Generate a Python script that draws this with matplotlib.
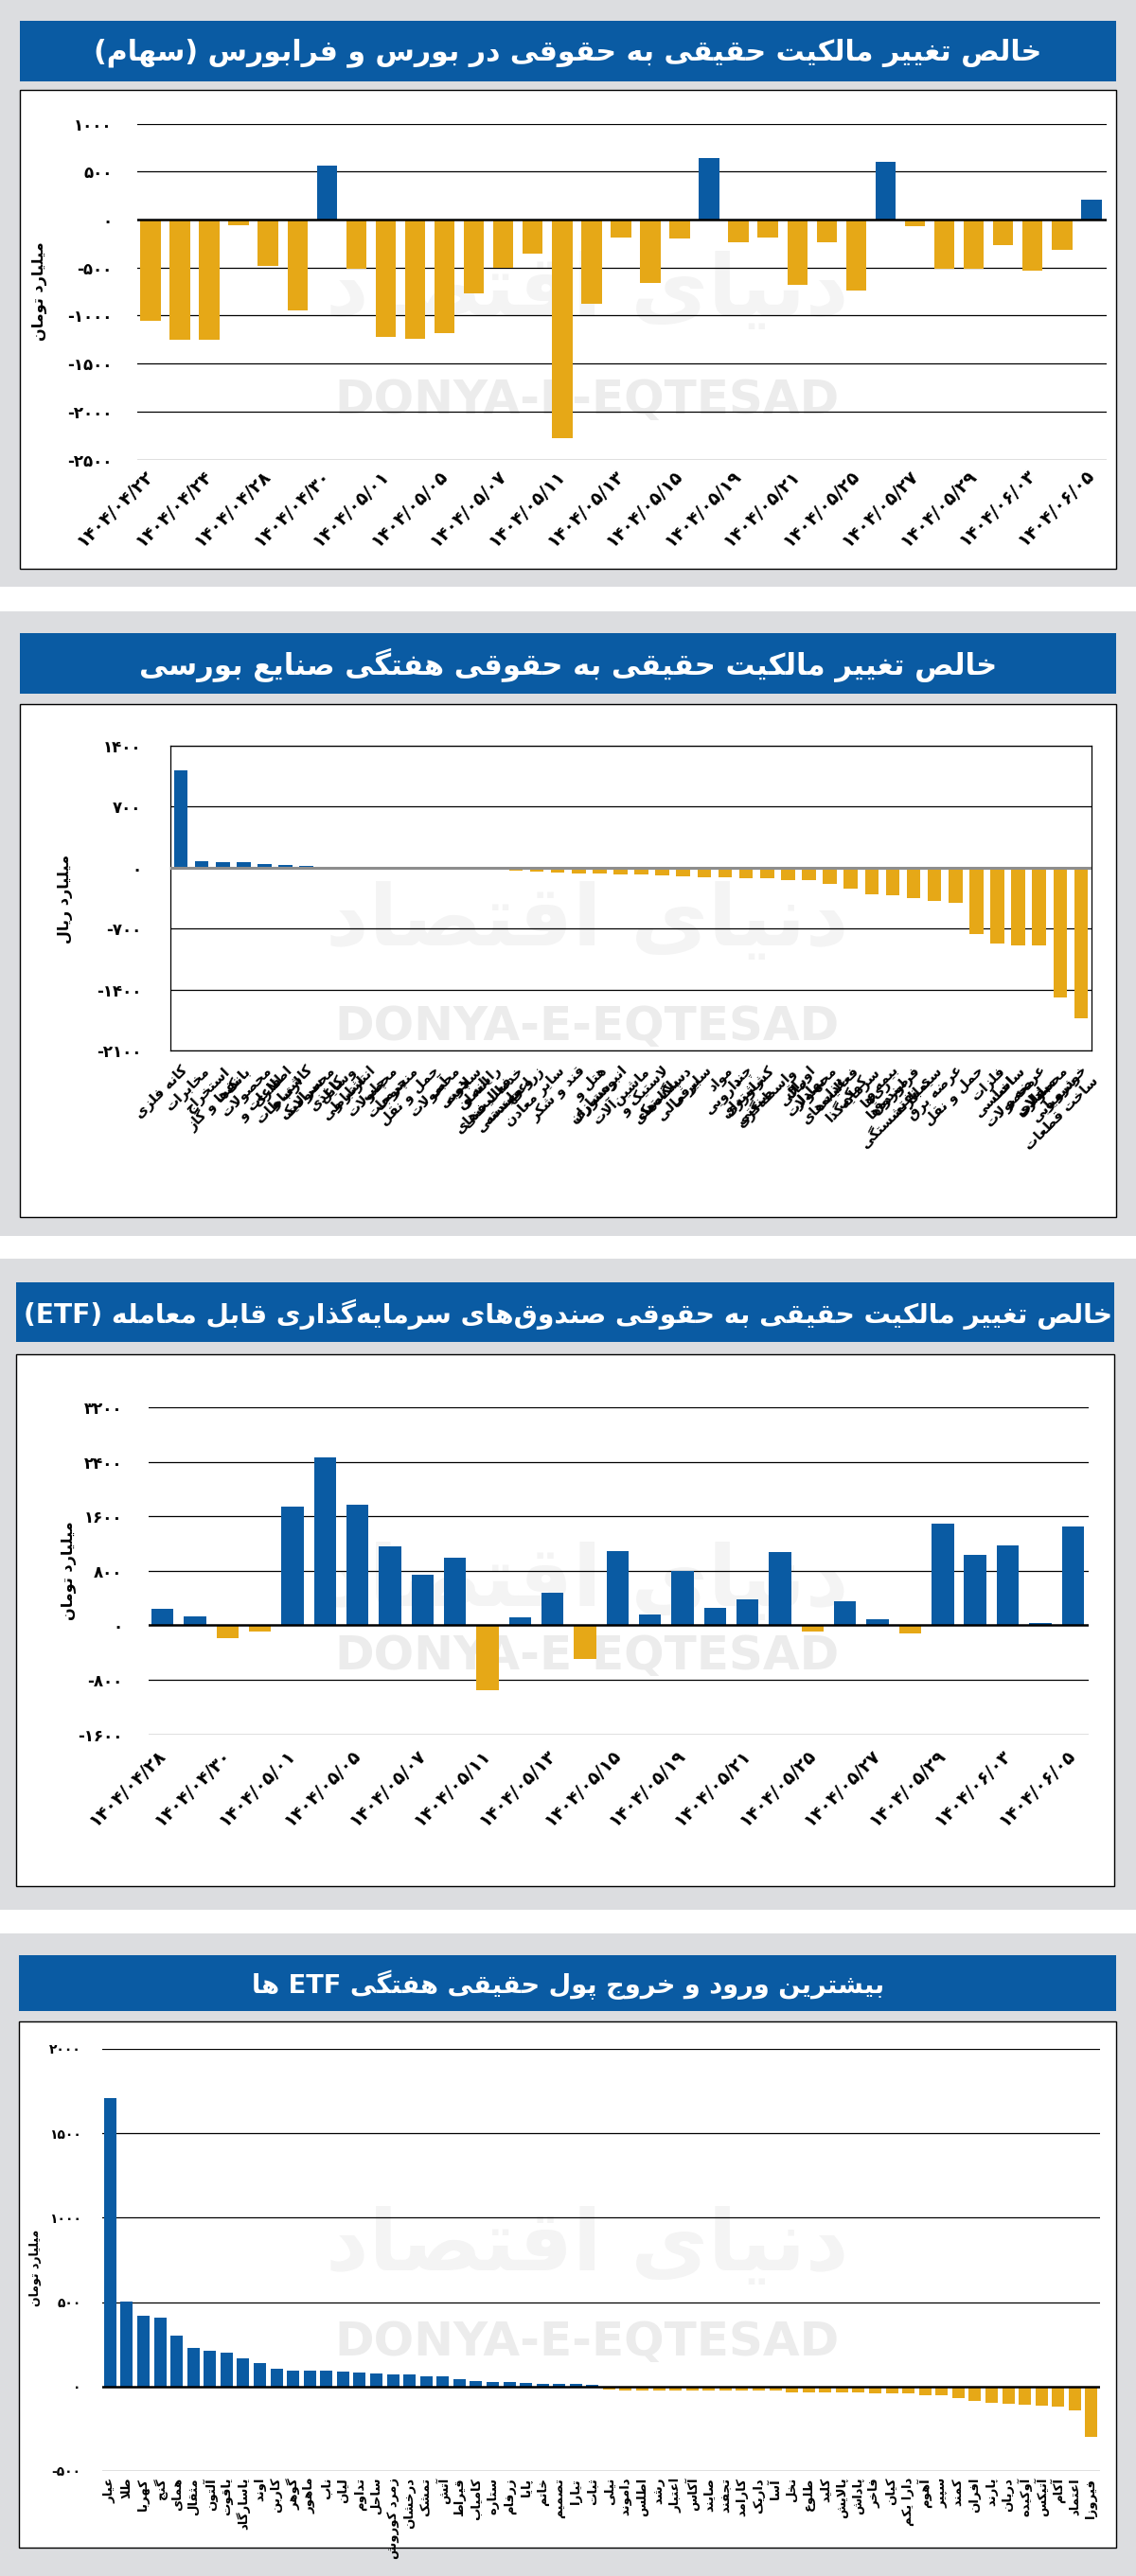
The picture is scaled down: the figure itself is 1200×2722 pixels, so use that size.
import textwrap
import matplotlib
matplotlib.use("Agg")
import matplotlib.pyplot as plt
from matplotlib.patches import Rectangle

plt.rcParams['font.family'] = ['DejaVu Sans']

W, H = 1200, 2722
BLUE = '#0a5ba3'
GOLD = '#e6a817'
GREY = '#dcdde0'

# ---------------- data ----------------
title1 = "خالص تغییر مالکیت حقیقی به حقوقی در بورس و فرابورس (سهام)"
title2 = "خالص تغییر مالکیت حقیقی به حقوقی هفتگی صنایع بورسی"
title3 = "خالص تغییر مالکیت حقیقی به حقوقی صندوق‌های سرمایه‌گذاری قابل معامله (ETF)"
title4 = "بیشترین ورود و خروج پول حقیقی هفتگی ETF ها"
unit_toman = "میلیارد تومان"
unit_rial = "میلیارد ریال"

p1_dates = ["۱۴۰۴/۰۴/۲۲", "۱۴۰۴/۰۴/۲۴", "۱۴۰۴/۰۴/۲۸", "۱۴۰۴/۰۴/۳۰", "۱۴۰۴/۰۵/۰۱",
            "۱۴۰۴/۰۵/۰۵", "۱۴۰۴/۰۵/۰۷", "۱۴۰۴/۰۵/۱۱", "۱۴۰۴/۰۵/۱۳", "۱۴۰۴/۰۵/۱۵",
            "۱۴۰۴/۰۵/۱۹", "۱۴۰۴/۰۵/۲۱", "۱۴۰۴/۰۵/۲۵", "۱۴۰۴/۰۵/۲۷", "۱۴۰۴/۰۵/۲۹",
            "۱۴۰۴/۰۶/۰۳", "۱۴۰۴/۰۶/۰۵"]
p1_values = [-1055, -1250, -1250, -60, -484, -945, 559, -512, -1223, -1242, -1180,
             -773, -500, -355, -2277, -879, -188, -664, -195, 637, -238, -188, -680,
             -238, -738, 598, -74, -512, -512, -266, -531, -313, 203]
p1_ticks = [-2500, -2000, -1500, -1000, -500, 0, 500, 1000]

p2_industries = ["کانه فلزی", "مخابرات", "استخراج نفت و گاز", "بانک‌ها", "محصولات فلزی",
                 "اطلاعات و ارتباطات", "کاشی و سرامیک", "محصولات کاغذی", "وسایل ارتباطی",
                 "انتشار و چاپ", "محصولات چرمی", "منسوجات", "حمل و نقل آبی", "محصولات چوبی",
                 "سلامت انسان", "رایانه و فعالیت‌های وابسته", "خدمات فنی و مهندسی", "زراعت",
                 "سایر معادن", "قند و شکر", "هتل و رستوران", "انبوه‌سازی", "ماشین‌آلات",
                 "لاستیک و پلاستیک", "دستگاه‌های برقی", "سایر مالی", "مواد دارویی",
                 "چند رشته‌ای صنعتی", "کشاورزی", "واسطه‌گری مالی", "اوراق بهادار",
                 "محصولات غذایی", "فعالیت‌های کمکی", "سرمایه‌گذاری‌ها",
                 "بیمه و صندوق بازنشستگی", "فراورده‌های نفتی", "سیمان", "عرضه برق",
                 "حمل و نقل", "فلزات اساسی", "ساخت محصولات فلزی", "عرضه و مبادلات",
                 "محصولات شیمیایی", "خودرو و ساخت قطعات"]
p2_values = [1117, 73, 62, 62, 40, 29, 18, 5, 4, 3, 2, 2, 1, 1,
             -22, -25, -36, -44, -54, -65, -65, -76, -76, -91,
             -102, -109, -109, -127, -127, -141, -141, -185, -239, -305,
             -316, -348, -381, -403, -762, -871, -892, -892, -1487, -1734]
p2_ticks = [-2100, -1400, -700, 0, 700, 1400]

p3_dates = ["۱۴۰۴/۰۴/۲۸", "۱۴۰۴/۰۴/۳۰", "۱۴۰۴/۰۵/۰۱", "۱۴۰۴/۰۵/۰۵", "۱۴۰۴/۰۵/۰۷",
            "۱۴۰۴/۰۵/۱۱", "۱۴۰۴/۰۵/۱۳", "۱۴۰۴/۰۵/۱۵", "۱۴۰۴/۰۵/۱۹", "۱۴۰۴/۰۵/۲۱",
            "۱۴۰۴/۰۵/۲۵", "۱۴۰۴/۰۵/۲۷", "۱۴۰۴/۰۵/۲۹", "۱۴۰۴/۰۶/۰۳", "۱۴۰۴/۰۶/۰۵"]
p3_values = [243, 130, -181, -96, 1744, 2463, 1772, 1161, 742, 991, -957, 119, 481,
             -498, 1087, 159, 793, 255, 385, 1076, -85, 357, 91, -125, 1495, 1036,
             1172, 34, 1450]
p3_ticks = [-1600, -800, 0, 800, 1600, 2400, 3200]

p4_funds = ["عیار", "طلا", "کهربا", "گنج", "همای", "مثقال", "آلتون", "یاقوت", "یاسارگاد",
            "اوند", "کاربن", "گوهر", "ماهور", "ناب", "لیان", "تداوم", "ساحل", "زمرد کوروش",
            "درخشان", "تمشک", "آتش", "قیراط", "کامیاب", "ستاره", "زرفام", "پایا", "خاتم",
            "تصمیم", "تیارا", "ثبات", "نیلی", "داموند", "اطلس", "رشد", "اعتبار", "آکاس",
            "صایند", "تجفند", "کارامد", "داریک", "آسا", "نخل", "طلوع", "کلید", "پالایش",
            "پاداش", "فاخر", "کیان", "دارا یکم", "آهوم", "سپیر", "کمند", "افران", "پارند",
            "دریان", "آوکیده", "آتیکس", "آکام", "اعتماد", "فیروزا"]
p4_values = [1709, 506, 422, 409, 304, 231, 213, 200, 166, 138, 106, 95, 95, 95, 88,
             82, 80, 73, 69, 62, 62, 43, 34, 26, 26, 19, 15, 15, 15, 9,
             -19, -26, -26, -26, -26, -26, -26, -26, -26, -26, -26, -32, -32, -32,
             -32, -32, -39, -43, -43, -50, -52, -71, -88, -99, -103, -110, -114,
             -121, -144, -300]
p4_ticks = [-500, 0, 500, 1000, 1500, 2000]

# ---------------- persian shaping (no reshaper available) ----------------
FORMS = {}
for ch, b in [('\u0626', 0xFE89), ('\u0628', 0xFE8F), ('\u062A', 0xFE95), ('\u062B', 0xFE99),
              ('\u062C', 0xFE9D), ('\u062D', 0xFEA1), ('\u062E', 0xFEA5), ('\u0633', 0xFEB1),
              ('\u0634', 0xFEB5), ('\u0635', 0xFEB9), ('\u0636', 0xFEBD), ('\u0637', 0xFEC1),
              ('\u0638', 0xFEC5), ('\u0639', 0xFEC9), ('\u063A', 0xFECD), ('\u0641', 0xFED1),
              ('\u0642', 0xFED5), ('\u0643', 0xFED9), ('\u0644', 0xFEDD), ('\u0645', 0xFEE1),
              ('\u0646', 0xFEE5), ('\u0647', 0xFEE9), ('\u064A', 0xFEF1), ('\u067E', 0xFB56),
              ('\u0686', 0xFB7A), ('\u06A9', 0xFB8E), ('\u06AF', 0xFB92), ('\u06CC', 0xFBFC)]:
    FORMS[ch] = (b, b + 1, b + 2, b + 3)
for ch, b in [('\u0622', 0xFE81), ('\u0623', 0xFE83), ('\u0624', 0xFE85), ('\u0625', 0xFE87),
              ('\u0627', 0xFE8D), ('\u0629', 0xFE93), ('\u062F', 0xFEA9), ('\u0630', 0xFEAB),
              ('\u0631', 0xFEAD), ('\u0632', 0xFEAF), ('\u0648', 0xFEED), ('\u0649', 0xFEEF),
              ('\u0698', 0xFB8A)]:
    FORMS[ch] = (b, b + 1, None, None)
LAMALEF = {'\u0627': (0xFEFB, 0xFEFC), '\u0622': (0xFEF5, 0xFEF6),
           '\u0623': (0xFEF7, 0xFEF8), '\u0625': (0xFEF9, 0xFEFA)}
MIRROR = {'(': ')', ')': '('}


def _dual(c):
    return c in FORMS and FORMS[c][2] is not None


def shape(s):
    out, i, n = [], 0, len(s)
    while i < n:
        c = s[i]
        if c not in FORMS:
            if c != '\u200c':
                out.append(c)
            i += 1
            continue
        jp = i > 0 and _dual(s[i - 1])
        if c == '\u0644' and i + 1 < n and s[i + 1] in LAMALEF:
            iso, fin = LAMALEF[s[i + 1]]
            out.append(chr(fin if jp else iso))
            i += 2
            continue
        jn = _dual(c) and i + 1 < n and s[i + 1] in FORMS
        iso, fin, ini, med = FORMS[c]
        g = med if (jp and jn) else fin if jp else ini if jn else iso
        out.append(chr(g))
        i += 1
    return ''.join(out)


def _dir(ch):
    if (ch.isascii() and ch.isalnum()) or '\u06F0' <= ch <= '\u06F9':
        return 'L'
    if '\u0600' <= ch <= '\u06FF' or '\uFB50' <= ch <= '\uFEFF':
        return 'R'
    return 'N'


def _visual(s):
    d0 = [_dir(c) for c in s]
    d = []
    for i, x in enumerate(d0):
        if x == 'N':
            p = next((d0[j] for j in range(i - 1, -1, -1) if d0[j] != 'N'), 'R')
            q = next((d0[j] for j in range(i + 1, len(d0)) if d0[j] != 'N'), 'R')
            x = 'L' if p == q == 'L' else 'R'
        d.append(x)
    runs = []
    for c, x in zip(s, d):
        if runs and runs[-1][0] == x:
            runs[-1][1].append(c)
        else:
            runs.append([x, [c]])
    out = []
    for x, chars in reversed(runs):
        if x == 'R':
            out.extend(MIRROR.get(c, c) for c in reversed(chars))
        else:
            out.extend(chars)
    return ''.join(out)


def fa(s):
    return '\n'.join(_visual(shape(line)) for line in s.split('\n'))


def pdig(v):
    return str(v).translate(str.maketrans('0123456789', '۰۱۲۳۴۵۶۷۸۹'))


# ---------------- figure helpers ----------------
fig = plt.figure(figsize=(W / 100, H / 100), dpi=100)
fig.patch.set_facecolor('white')
renderer = fig.canvas.get_renderer()


def frect(x0, y0, x1, y1):
    return [x0 / W, 1 - y1 / H, (x1 - x0) / W, (y1 - y0) / H]


def box(x0, y0, x1, y1, zorder=-10, **kw):
    fig.patches.append(Rectangle((x0 / W, 1 - y1 / H), (x1 - x0) / W, (y1 - y0) / H,
                                 transform=fig.transFigure, figure=fig, zorder=zorder, **kw))


def ftext(x, y, s, **kw):
    return fig.text(x / W, 1 - y / H, s, **kw)


def panel_frame(block, banner, wbox, title, title_w):
    box(0, block[0], W, block[1], facecolor=GREY, edgecolor='none', zorder=-12)
    box(banner[0], banner[1], banner[2], banner[3], facecolor=BLUE, edgecolor='none')
    box(wbox[0], wbox[1], wbox[2], wbox[3], facecolor='white', edgecolor='black', lw=1.0)
    t = ftext(600, (banner[1] + banner[3]) / 2 + 2, fa(title), color='white',
              fontsize=28, fontweight='bold', ha='center', va='center', zorder=-5)
    w = t.get_window_extent(renderer).width
    t.set_fontsize(min(28 * title_w / w, 28))
    # faint logo watermark
    cy = (wbox[1] + wbox[3]) / 2
    ftext(620, cy - 40, fa("دنیای اقتصاد"), color='#f4f4f4', fontsize=64,
          fontweight='bold', ha='center', va='center', zorder=-6)


def watermark(y):
    ftext(620, y, "DONYA-E-EQTESAD", color='#ececec', fontsize=36, fontweight='bold',
          ha='center', va='center', zorder=-6, family='Liberation Sans Narrow')


def bar_axes(rect, values, ticks, width, xlim, ylpad, zero_color='black', zero_lw=1.8,
             frame=False):
    ax = fig.add_axes(frect(*rect))
    ax.set_facecolor('none')
    x = list(range(len(values)))
    colors = [BLUE if v > 0 else GOLD for v in values]
    ax.bar(x, values, width=width, color=colors, zorder=2)
    for t in ticks:
        if t != 0:
            ax.axhline(t, color='black', lw=0.9, zorder=1)
    ax.axhline(0, color=zero_color, lw=zero_lw, zorder=3)
    ax.set_ylim(ticks[0], ticks[-1])
    ax.set_xlim(*xlim)
    ax.set_yticks(ticks)
    ax.set_yticklabels([pdig(t) for t in ticks], fontsize=12, fontweight='bold')
    ax.tick_params(axis='both', length=0)
    ax.tick_params(axis='y', pad=ylpad)
    for s in ax.spines.values():
        s.set_visible(frame)
        s.set_linewidth(0.9)
    return ax


# ---------------- panel 1 ----------------
panel_frame((0, 620), (21, 22, 1179, 86), (21, 95, 1179, 601), title1, 1000)
watermark(423)
ax1 = bar_axes((145, 130.5, 1169, 485.6), p1_values, p1_ticks, 0.69, (-0.45, 32.52), 19)
ax1.set_xticks(range(0, len(p1_values), 2))
ax1.set_xticklabels(p1_dates, fontsize=13.5, fontweight='bold')
for lb in ax1.get_xticklabels():
    lb.set(rotation=45, ha='right', va='center', rotation_mode='anchor')
ax1.tick_params(axis='x', pad=10)
ftext(42, 308, fa(unit_toman), rotation=90, fontsize=11.5, fontweight='bold',
      ha='center', va='center')

# ---------------- panel 2 ----------------
panel_frame((646, 1306), (21, 669, 1179, 733), (21, 744, 1179, 1286), title2, 905)
watermark(1085)
ax2 = bar_axes((180, 788, 1153, 1110), p2_values, p2_ticks, 0.66, (-0.5, 43.5), 22,
               zero_color='#8d8d8d', zero_lw=2.2, frame=True)
ax2.set_xticks(range(len(p2_values)))
ax2.set_xticklabels([fa('\n'.join(textwrap.wrap(s, 10))) for s in p2_industries],
                    fontsize=10.5, fontweight='bold', linespacing=0.95)
for lb in ax2.get_xticklabels():
    lb.set(rotation=45, ha='right', va='top', rotation_mode='anchor')
ax2.tick_params(axis='x', pad=10)
ftext(69, 950, fa(unit_rial), rotation=90, fontsize=11.5, fontweight='bold',
      ha='center', va='center')

# ---------------- panel 3 ----------------
panel_frame((1330, 2018), (17, 1355, 1177, 1418), (17, 1431, 1177, 1993), title3, 1150)
watermark(1750)
ax3 = bar_axes((157, 1487, 1150, 1832.7), p3_values, p3_ticks, 0.68, (-0.43, 28.49), 20)
ax3.set_xticks(range(0, len(p3_values), 2))
ax3.set_xticklabels(p3_dates, fontsize=13.5, fontweight='bold')
for lb in ax3.get_xticklabels():
    lb.set(rotation=45, ha='right', va='center', rotation_mode='anchor')
ax3.tick_params(axis='x', pad=14)
ftext(73, 1660, fa(unit_toman), rotation=90, fontsize=11.5, fontweight='bold',
      ha='center', va='center')

# ---------------- panel 4 ----------------
panel_frame((2043, H), (20, 2066, 1179, 2125), (20, 2136, 1179, 2692), title4, 670)
watermark(2475)
ax4 = bar_axes((108, 2165, 1162, 2611), p4_values, p4_ticks, 0.74, (-0.48, 59.52), 16)
for lb in ax4.get_yticklabels():
    lb.set_fontsize(10)
ax4.set_xticks(range(len(p4_values)))
ax4.set_xticklabels([fa(s) for s in p4_funds], fontsize=9.5, fontweight='bold')
for lb in ax4.get_xticklabels():
    lb.set(rotation=90, ha='center', va='top')
ax4.tick_params(axis='x', pad=5)
ftext(38, 2396, fa(unit_toman), rotation=90, fontsize=9, fontweight='bold',
      ha='center', va='center')

fig.savefig("out.png", dpi=100)
